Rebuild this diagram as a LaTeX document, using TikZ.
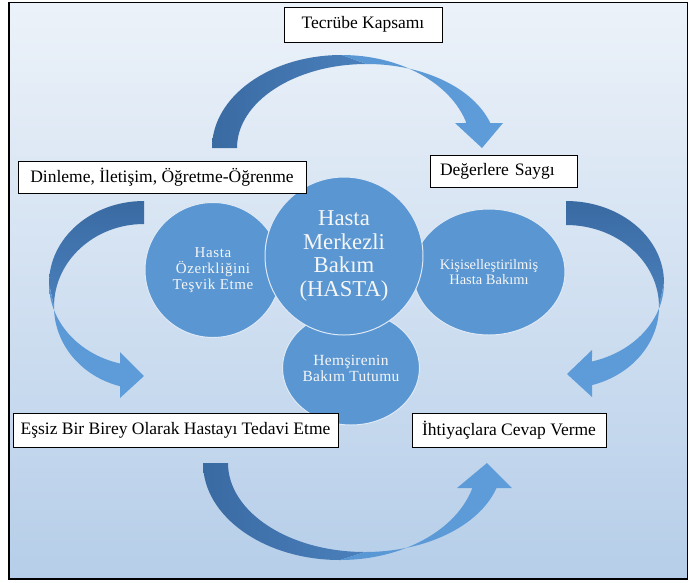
\documentclass[tikz,border=0pt]{standalone}
\usepackage{fontspec}
\setmainfont{Liberation Serif}
\usetikzlibrary{shapes.geometric}
\definecolor{bgtop}{RGB}{236,242,249}
\definecolor{bgbot}{RGB}{182,206,233}
\definecolor{circfill}{RGB}{89,150,210}
\definecolor{circline}{RGB}{222,233,245}
\definecolor{arrdark}{RGB}{58,106,162}
\definecolor{arrmid}{RGB}{74,128,188}
\definecolor{arrfront}{RGB}{88,150,212}
\definecolor{arrfrontb}{RGB}{94,157,218}
\definecolor{txtw}{RGB}{246,246,246}
\begin{document}
\begin{tikzpicture}[x=1pt,y=-1pt,
  bubble/.style={ellipse, fill=circfill, draw=circline, line width=1pt, inner sep=0pt, text=txtw, align=center},
  labelbox/.style={draw=black, fill=white, line width=0.8pt, inner sep=0pt, font=\fontsize{17.5}{20}\selectfont}]
\useasboundingbox (0,0) rectangle (691,582);
% background and frame
\shade[top color=bgtop, bottom color=bgbot] (9,2.5) rectangle (687.5,579);
\draw[line width=1.8pt] (9,2.5) rectangle (687.5,579);

% top curved arrow (down)
\shade[left color=arrdark, right color=arrmid] (212,148) arc[start angle=180,end angle=270,x radius=129.6,y radius=93]
  -- (366.6,64) arc[start angle=270,end angle=180,x radius=129.6,y radius=84] -- cycle;
\shade[left color=arrfront, right color=arrfrontb] (341.6,55) arc[start angle=270,end angle=344.4,x radius=129.6,y radius=93]
  -- (455,123) -- (482,148) -- (503,123) -- (490.3,123)
  arc[start angle=342.69,end angle=270,x radius=129.6,y radius=84] -- cycle;

% bottom curved arrow (up)
\shade[left color=arrdark, right color=arrmid] (203,463) arc[start angle=180,end angle=90,x radius=137,y radius=97]
  -- (365,552) arc[start angle=90,end angle=180,x radius=137,y radius=89] -- cycle;
\shade[left color=arrfront, right color=arrfrontb] (340,560) arc[start angle=90,end angle=14.94,x radius=137,y radius=97]
  -- (457,488) -- (487,463) -- (512,488) -- (496.5,488)
  arc[start angle=16.31,end angle=90,x radius=137,y radius=89] -- cycle;

% left curved arrow (right)
\shade[top color=arrdark, bottom color=arrmid] (144,201) arc[start angle=270,end angle=180,x radius=95,y radius=82.6]
  -- (54,306.6) arc[start angle=180,end angle=270,x radius=90,y radius=82.6] -- cycle;
\shade[top color=arrfront, bottom color=arrfrontb] (49,283.6) arc[start angle=180,end angle=104.63,x radius=95,y radius=82.6]
  -- (120,352) -- (144,376) -- (120,398) -- (120,386.2)
  arc[start angle=105.47,end angle=180,x radius=90,y radius=82.6] -- cycle;

% right curved arrow (left)
\shade[top color=arrdark, bottom color=arrmid] (566,201) arc[start angle=270,end angle=360,x radius=98,y radius=81.7]
  -- (659,306.7) arc[start angle=360,end angle=270,x radius=93,y radius=81.7] -- cycle;
\shade[top color=arrfront, bottom color=arrfrontb] (664,282.7) arc[start angle=0,end angle=74.62,x radius=98,y radius=81.7]
  -- (592,350) -- (567,374) -- (592,397) -- (592,385.1)
  arc[start angle=73.77,end angle=0,x radius=93,y radius=81.7] -- cycle;

% bubbles
\node[bubble, minimum width=136pt, minimum height=135pt, font=\fontsize{15}{16}\selectfont\addfontfeature{LetterSpace=4}]
  (auto) at (213,270) {Hasta\\Özerkliğini\\Teşvik Etme};
\node[bubble, minimum width=152pt, minimum height=126pt, font=\fontsize{14.5}{15.5}\selectfont]
  (kisi) at (489,272) {Kişiselleştirilmiş\\Hasta Bakımı};
\node[bubble, minimum width=134pt, minimum height=114pt, font=\fontsize{15.5}{16}\selectfont\addfontfeature{LetterSpace=2}]
  (hems) at (351,368) {Hemşirenin\\Bakım Tutumu};
\node[bubble, minimum width=158pt, minimum height=158pt, font=\fontsize{22.7}{23.5}\selectfont]
  (merk) at (344,256) {Hasta\\Merkezli\\Bakım\\(HASTA)};

% label boxes
\node[labelbox, minimum width=158pt, minimum height=35pt] (tec) at (363,24.5) {Tecrübe Kapsamı};
\node[labelbox, minimum height=32pt, text width=127pt, inner xsep=10pt, align=left] (deg) at (503.5,171) {Değerlere Saygı};
\node[labelbox, minimum width=288pt, minimum height=32pt] (din) at (162,177) {Dinleme, İletişim, Öğretme-Öğrenme};
\node[labelbox, minimum width=325pt, minimum height=34pt] (ess) at (175.5,430) {Eşsiz Bir Birey Olarak Hastayı Tedavi Etme};
\node[labelbox, minimum width=194pt, minimum height=34pt] (iht) at (509,430) {İhtiyaçlara Cevap Verme};
\end{tikzpicture}
\end{document}
